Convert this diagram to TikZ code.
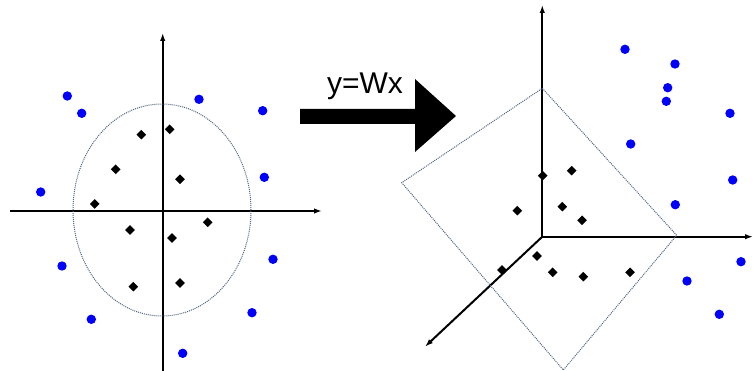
\documentclass[tikz,border=0pt]{standalone}
\usepackage{fontspec}
\setmainfont{Liberation Sans}
\usetikzlibrary{arrows.meta}

\definecolor{hullgrey}{RGB}{80,100,130}

\tikzset{
  axis/.style={line width=2pt,-{Latex[length=8pt,width=5.5pt]}},
  hull/.style={densely dotted,draw=hullgrey,line width=1pt},
  outlier/.style={fill=blue},
  inlier/.style={fill=black}
}

\begin{document}
\begin{tikzpicture}[x=1pt,y=-1pt]
    \useasboundingbox (0,0) rectangle (753,371);
    % Input space: two axes and the circle round the inliers
    \coordinate (o1) at (162.7,211);
    \coordinate (ytop) at (162.7,33);
    \coordinate (ybot) at (162.7,371);
    \coordinate (xleft) at (10,211);
    \coordinate (xright) at (322,211);
    \draw[axis] (ybot) -- (ytop);
    \draw[axis] (xleft) -- (xright);
    \draw[hull] (162,210) ellipse [x radius=89pt,y radius=106pt];
    % Mapping arrow
    \fill (300,109) -- (415,109) -- (415,79) -- (456,116) -- (415,152) -- (415,124) -- (300,124) -- cycle;
    \node[font=\fontsize{30}{30}\selectfont] (maplabel) at (365,86) {y=Wx};
    % Feature space: three axes and the square round the inliers
    \coordinate (o2) at (542.3,236.7);
    \draw[axis] (o2) -- (542.3,5);
    \draw[axis] (o2) -- (753,236.7);
    \draw[axis] (o2) -- (425,346.7);
    \draw[hull] (542.3,88.3) -- (676.7,235.3) -- (563.3,370) -- (401.7,182.7) -- cycle;
    % Outliers
    \foreach \x/\y in {67.3/96,81.7/113.3,199/99.3,262.7/110.7,40.7/192,264.3/177.3,
        62/266,273/259.3,91.3/319.3,252/312.7,182.7/353.3,
        625/49.3,675/64,667.7/87.7,666.3/101.3,730/113.3,630.7/144,
        732.7/180,675.3/204.7,741/261.7,687/281,719.3/314.3} {
      \fill[outlier] (\x,\y) circle (4.7pt);
    }
    % Inliers
    \foreach \x/\y in {141.3/134.7,169.7/129.3,115.7/169.3,180/179.3,94.7/204,
        130/230,207.7/222.3,172/238,133.3/286.7,180/283,
        542.7/175.7,571.7/170.7,517.3/210.7,562.3/206.7,582/220.3,
        537/256,502/270,552.7/272.3,583.3/276.7,630/272.3} {
      \fill[inlier] (\x,\y) +(0,-4.8) -- +(4.8,0) -- +(0,4.8) -- +(-4.8,0) -- cycle;
    }
\end{tikzpicture}
\end{document}
